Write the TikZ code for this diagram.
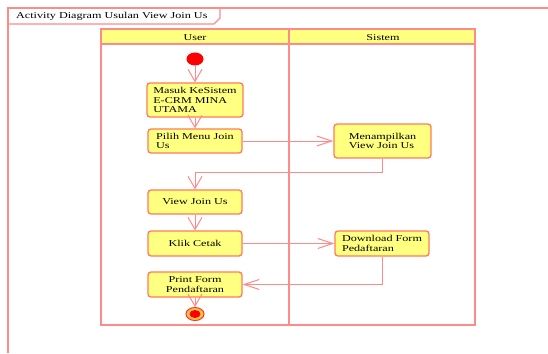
\documentclass[tikz,border=0pt]{standalone}
\usepackage{fontspec}
\setmainfont{Liberation Serif}[FakeStretch=1.35]
\usetikzlibrary{arrows.meta,shapes.geometric}
\definecolor{laneline}{HTML}{FF8A8A}
\definecolor{boxline}{HTML}{FF7A5C}
\definecolor{boxfill}{HTML}{FFFF80}
\definecolor{ringfill}{HTML}{FFC840}
\tikzset{
  act/.style={draw=boxline, line width=1.3pt, fill=boxfill, rounded corners=3pt,
    font=\fontsize{9}{9.5}\selectfont, inner sep=2pt},
  flow/.style={draw=laneline, line width=1pt},
  vtip/.style={flow, -{Straight Barb[length=12pt,width=14pt,line width=1pt]}},
  htip/.style={flow, -{Straight Barb[length=15pt,width=10pt,line width=1pt]}},
  frame/.style={draw=laneline, line width=1.1pt},
  lbl/.style={font=\fontsize{9}{9.5}\selectfont, inner sep=0pt}
}
\begin{document}
\begin{tikzpicture}[x=1pt,y=-1pt]
\useasboundingbox (0,0) rectangle (548,353);
\fill[white] (0,0) rectangle (548,353);

% outer diagram frame with title tab
\draw[frame] (8,353) -- (8,8) -- (548,8);
\draw[frame] (8,24) -- (214,24) -- (220,18) -- (220,8);
\node[lbl, anchor=west] (title) at (16,16) {Activity Diagram Usulan View Join Us};

% swimlanes
\fill[boxfill] (101,29) rectangle (475,44);
\draw[frame] (101,29) rectangle (475,325);
\draw[frame] (101,44) -- (475,44);
\draw[frame] (289,29) -- (289,325);
\node[lbl] (laneuser) at (195,37.5) {User};
\node[lbl] (lanesys) at (383,37.5) {Sistem};

% activities
\node[ellipse, fill=red, minimum width=17pt, minimum height=13pt, inner sep=0pt] (init) at (195,59) {};
\node[act, minimum width=96pt, minimum height=34pt, align=left] (masuk) at (195,100)
  {Masuk KeSistem\\E-CRM MINA\\UTAMA};
\node[act, minimum width=94pt, minimum height=24pt, align=left] (pilih) at (195,141)
  {Pilih Menu Join\\Us};
\node[act, minimum width=97pt, minimum height=34pt, align=left] (tampil) at (382.5,141)
  {Menampilkan\\View Join Us};
\node[act, minimum width=94pt, minimum height=24pt] (view) at (195,202) {View Join Us};
\node[act, minimum width=94pt, minimum height=25pt] (klik) at (195,243.5) {Klik Cetak};
\node[act, minimum width=94pt, minimum height=25pt, align=left] (dl) at (382,243.5)
  {Download Form\\Pedaftaran};
\node[act, minimum width=94pt, minimum height=25pt, align=center] (print) at (195,284.5)
  {Print Form\\Pendaftaran};
\node[ellipse, draw=red!80, line width=1pt, fill=ringfill, minimum width=18pt, minimum height=13pt, inner sep=0pt] (final) at (195,314) {};
\fill[red] (final.center) ellipse (5.5pt and 4pt);

% control flow
\coordinate (j1) at (0,172);
\draw[vtip] (init) -- (masuk.north);
\draw[vtip] (masuk.south) -- (pilih.north);
\draw[htip] (pilih.east) -- (tampil.west);
\draw[vtip] (tampil.south) -- (tampil.south |- j1) -| (view.north);
\draw[vtip] (view.south) -- (klik.north);
\draw[htip] (klik.east) -- (dl.west);
\draw[htip] (dl.south) |- (print.east);
\draw[vtip] (print.south) -- (final.north);
\end{tikzpicture}
\end{document}
